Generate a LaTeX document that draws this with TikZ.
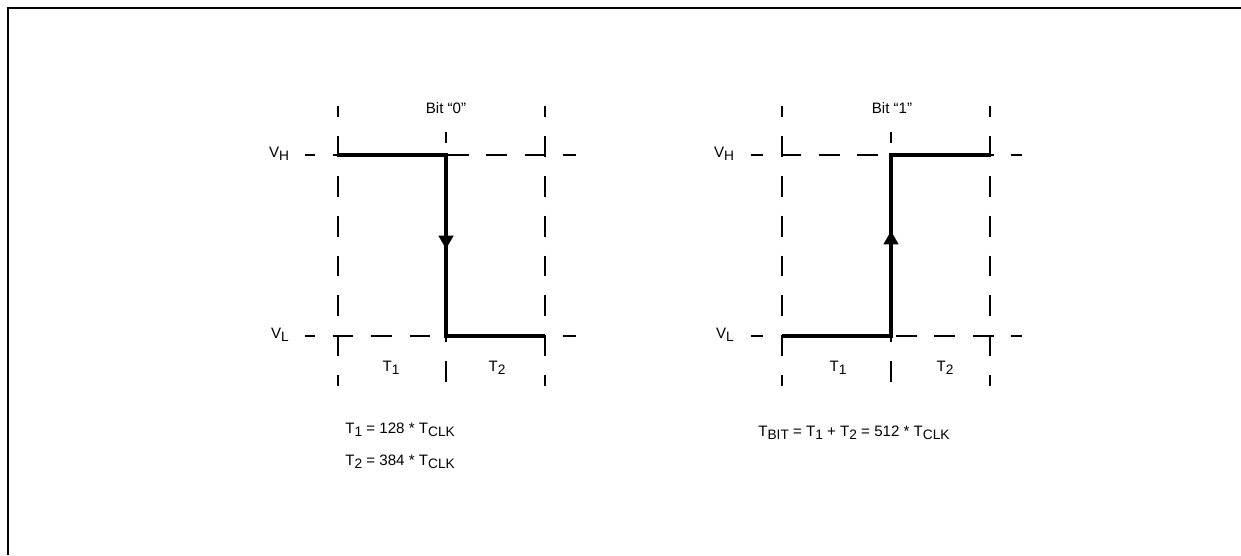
\documentclass[tikz,border=0pt]{standalone}
\usepackage{fontspec}
\setmainfont{Liberation Sans}
\usetikzlibrary{arrows.meta,positioning}
\newcommand{\lowsub}[1]{\raisebox{-0.4ex}{\fontsize{7.8}{8}\selectfont #1}}

\begin{document}
\begin{tikzpicture}[
    x=0.02cm, y=-0.02cm,
    grid/.style={line width=1.3pt, dash pattern=on 11.9pt off 10.8pt, dash phase=5.7pt},
    hgrid/.style={grid, dash pattern=on 11.9pt off 10pt},
    wave/.style={line width=1.8pt},
    tip/.style={-{Triangle[width=8.2pt,length=7.6pt]}},
    txt/.style={font=\fontsize{8.6}{10}\selectfont, inner sep=0pt}
  ]
    \useasboundingbox (0,0) rectangle (1241,555);
    \draw[line width=1.5pt] (8,555) -- (8,8) -- (1241,8);

    % Bit "0"
    \draw[grid] (338,106) -- (338,386);
    \draw[grid] (446,132) -- (446,388);
    \draw[grid] (545,106) -- (545,386);
    \draw[hgrid, dash phase=6.2pt] (305,155) -- (576,155);
    \draw[hgrid, dash phase=6.2pt] (305,336) -- (576,336);

    \coordinate (w0a) at (338,155);
    \coordinate (w0b) at (446,155);
    \coordinate (w0c) at (446,336);
    \coordinate (w0d) at (545,336);
    \coordinate (w0m) at (446,249);
    \draw[wave] (w0a) -- (w0b) -- (w0c) -- (w0d);
    \draw[wave, tip] (w0b) -- (w0m);

    \node[txt] (bit0) at (446,108) {Bit “0”};
    \node[txt] (vh0) at (279,154) {V\lowsub{H}};
    \node[txt] (vl0) at (280,335) {V\lowsub{L}};
    \node[txt] (t1a) at (391,368) {T\lowsub{1}};
    \node[txt] (t2a) at (497,368) {T\lowsub{2}};
    \node[txt, anchor=west] (t1eq) at (345,430) {T\lowsub{1} = 128 * T\lowsub{CLK}};
    \node[txt, below=0.64cm of t1eq.west, anchor=west] (t2eq) {T\lowsub{2} = 384 * T\lowsub{CLK}};

    % Bit "1"
    \draw[grid] (782,106) -- (782,386);
    \draw[grid] (891,132) -- (891,388);
    \draw[grid] (990,106) -- (990,386);
    \draw[hgrid, dash phase=5.1pt] (751,155) -- (1022,155);
    \draw[hgrid, dash phase=5.1pt] (751,336) -- (1022,336);

    \coordinate (w1a) at (782,336);
    \coordinate (w1b) at (891,336);
    \coordinate (w1c) at (891,155);
    \coordinate (w1d) at (990,155);
    \coordinate (w1m) at (891,231);
    \draw[wave] (w1a) -- (w1b) -- (w1c) -- (w1d);
    \draw[wave, tip] (w1b) -- (w1m);

    \node[txt] (bit1) at (892,108) {Bit “1”};
    \node[txt] (vh1) at (724,154) {V\lowsub{H}};
    \node[txt] (vl1) at (725,335) {V\lowsub{L}};
    \node[txt] (t1b) at (838,368) {T\lowsub{1}};
    \node[txt] (t2b) at (945,368) {T\lowsub{2}};
    \node[txt, anchor=west] (tbit) at (758,433) {T\lowsub{BIT} = T\lowsub{1} + T\lowsub{2} = 512 * T\lowsub{CLK}};
  \end{tikzpicture}
\end{document}
